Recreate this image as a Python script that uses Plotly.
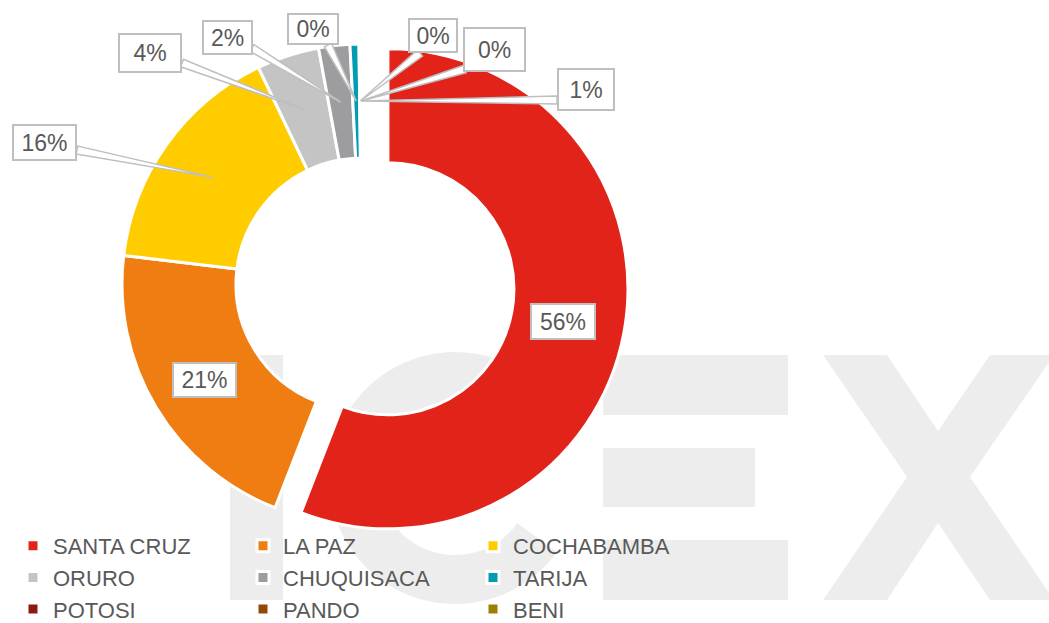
import math
import plotly.graph_objects as go

# ---------------- data ----------------
regions = ["SANTA CRUZ", "LA PAZ", "COCHABAMBA", "ORURO", "CHUQUISACA",
           "TARIJA", "POTOSI", "PANDO", "BENI"]
shares = [55.9, 21.0, 16.0, 4.2, 2.1, 0.6, 0.1, 0.05, 0.05]
pct_labels = ["56%", "21%", "16%", "4%", "2%", "0%", "0%", "0%", "1%"]
colors = ["#E2231A", "#EF7D11", "#FFCC00", "#C4C4C4", "#9D9C9F",
          "#009CB4", "#8B1A12", "#8F4A06", "#9C7E00"]

# ---------------- layout helpers (pixels -> paper) ----------------
W, H = 1049, 623
MR = 300                      # right margin, only to make the legend wrap in 3 columns
PW = W - MR


def fx(px):
    return px / PW


def fy(py):
    return 1 - py / H


CX, CY, R = 362, 284, 240     # donut centre / radius in pixels
HOLE = 0.525
PULL = 0.11
half = R * (1 + PULL)
RM = R * (1 + HOLE) / 2       # mid-ring radius where leaders point

# label boxes: centre (px), size (px), leader base (px) or None
label_layout = [
    ((563, 321.5), (66, 37), None),
    ((204.5, 380), (65, 36), None),
    ((44.5, 142.5), (65, 37), (77, 150)),
    ((150, 53), (64, 40), (182, 63)),
    ((227.5, 37.5), (51, 35), (252, 48)),
    ((313, 29), (52, 32), (328, 45)),
    ((433, 35.5), (50, 35), (420, 53)),
    ((494.5, 49.5), (63, 45), (465, 69)),
    ((586, 89.5), (58, 43), (557, 100)),
]

WM = "#EDEDED"
GRID = "#BFBFBF"
TXT = "#595959"
FONT = "Liberation Sans, Arial, sans-serif"


def poly_path(pts):
    return "M " + " L ".join(f"{fx(x):.5f},{fy(y):.5f}" for x, y in pts) + " Z"


def ring_path(cx, cy, ro, ri, a0, a1, n=90):
    pts = []
    for i in range(n + 1):
        a = math.radians(a0 + (a1 - a0) * i / n)
        pts.append((cx + ro * math.cos(a), cy - ro * math.sin(a)))
    for i in range(n + 1):
        a = math.radians(a1 - (a1 - a0) * i / n)
        pts.append((cx + ri * math.cos(a), cy - ri * math.sin(a)))
    return poly_path(pts)


shapes = []


# ---- watermark "ICEX" drawn beneath the donut ----
def wm_rect(x0, y0, x1, y1):
    return dict(type="rect", xref="paper", yref="paper", layer="below",
                x0=fx(x0), x1=fx(x1), y0=fy(y1), y1=fy(y0),
                fillcolor=WM, line=dict(width=0))


shapes.append(wm_rect(230, 355, 283, 600))                               # I
shapes.append(dict(type="path", xref="paper", yref="paper", layer="below",
                   path=ring_path(455, 478, 126, 77, 40, 324),
                   fillcolor=WM, line=dict(width=0)))                    # C
shapes.append(wm_rect(603, 355, 788, 415))                               # E
shapes.append(wm_rect(603, 448, 755, 507))
shapes.append(wm_rect(603, 540, 788, 600))
x_pts = [(823, 355), (887, 355), (938, 431), (990, 355), (1054, 355), (970, 477),
         (1054, 600), (990, 600), (938, 523), (887, 600), (823, 600), (907, 477)]
shapes.append(dict(type="path", xref="paper", yref="paper", layer="below",
                   path=poly_path(x_pts), fillcolor=WM, line=dict(width=0)))  # X

# ---- leader wedges, tips computed from the data (mid-angle, mid-ring) ----
total = sum(shares)
cum = 0.0
tips = []
for v in shares:
    mid = (cum + v / 2) / total
    th = 2 * math.pi * mid
    tips.append((CX + RM * math.sin(th), CY - RM * math.cos(th)))
    cum += v

annotations = []
for i, (txt, (ctr, size, base)) in enumerate(zip(pct_labels, label_layout)):
    if base is not None:
        tx, ty = tips[i]
        bx, by = base
        dx, dy = tx - bx, ty - by
        L = math.hypot(dx, dy)
        nx, ny = -dy / L, dx / L
        hw = 4.0
        p1 = (bx + nx * hw, by + ny * hw)
        p2 = (bx - nx * hw, by - ny * hw)
        shapes.append(dict(type="path", xref="paper", yref="paper", layer="above",
                           path=poly_path([p1, (tx, ty), p2]),
                           fillcolor="white", line=dict(color=GRID, width=1.5)))
    bwid = 2
    annotations.append(dict(
        x=fx(ctr[0]), y=fy(ctr[1]), xref="paper", yref="paper",
        xanchor="center", yanchor="middle", showarrow=False,
        text=txt, font=dict(family=FONT, size=23, color=TXT),
        bgcolor="white", bordercolor=GRID, borderwidth=bwid, borderpad=0,
        width=size[0] - 2 * bwid, height=size[1] - 2 * bwid,
    ))

fig = go.Figure(go.Pie(
    labels=regions, values=shares, sort=False, direction="clockwise",
    rotation=0, hole=HOLE,
    pull=[PULL if r == "SANTA CRUZ" else 0 for r in regions],
    marker=dict(colors=colors, line=dict(color="white", width=3)),
    textinfo="none", hoverinfo="label+percent",
    domain=dict(x=[fx(CX - half), fx(CX + half)], y=[fy(CY + half), fy(CY - half)]),
))

fig.update_layout(
    width=W, height=H,
    margin=dict(l=0, r=MR, t=0, b=0, autoexpand=False),
    paper_bgcolor="white", plot_bgcolor="white",
    shapes=shapes, annotations=annotations,
    showlegend=True,
    legend=dict(orientation="h", x=fx(13), y=fy(525), xanchor="left", yanchor="top",
                entrywidth=185, entrywidthmode="pixels",
                font=dict(family=FONT, size=22, color=TXT),
                bgcolor="rgba(0,0,0,0)", borderwidth=0),
    font=dict(family=FONT, color=TXT),
)

fig.write_html("out.html", config={"displayModeBar": False},
               post_script="document.body.style.margin='0px';")
